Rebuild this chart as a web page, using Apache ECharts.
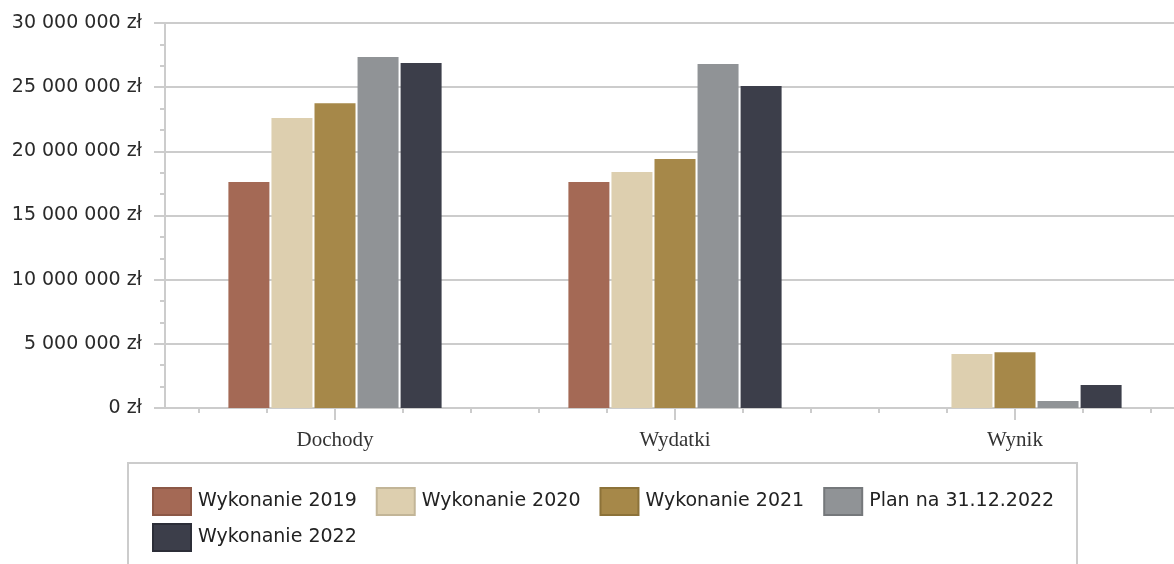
<!DOCTYPE html>
<html>
<head>
<meta charset="utf-8">
<script src="https://cdn.jsdelivr.net/npm/echarts@6/dist/echarts.min.js"></script>
<style>
  html, body { margin: 0; padding: 0; background: #fff; overflow: hidden; }
  #chart { width: 1186px; height: 564px; }
</style>
</head>
<body>
<div id="chart"></div>
<script>
const categories = ['Dochody', 'Wydatki', 'Wynik'];
const seriesNames = ['Wykonanie 2019', 'Wykonanie 2020', 'Wykonanie 2021', 'Plan na 31.12.2022', 'Wykonanie 2022'];
const wykonanie2019 = [17620000, 17620000, 0];
const wykonanie2020 = [22600000, 18390000, 4210000];
const wykonanie2021 = [23740000, 19400000, 4340000];
const plan2022 = [27350000, 26810000, 540000];
const wykonanie2022 = [26880000, 25090000, 1790000];
const yTicks = [0, 5000000, 10000000, 15000000, 20000000, 25000000, 30000000];

const seriesValues = [wykonanie2019, wykonanie2020, wykonanie2021, plan2022, wykonanie2022];
const colors = ['#a46955', '#ddcfaf', '#a68849', '#909396', '#3c3e4a'];
const borders = ['#8c5846', '#c2b597', '#8c7239', '#75787b', '#2c2e38'];
const minorCats = Array.from({ length: 15 }, () => '');

function fmt(v) {
  return String(v).replace(/\B(?=(\d{3})+(?!\d))/g, ' ') + ' zł';
}

const chart = echarts.init(document.getElementById('chart'), null, { renderer: 'canvas', width: 1186, height: 564 });
const gridColor = '#cccccc';

const legendStyle = {
  orient: 'horizontal',
  left: 152,
  itemWidth: 38,
  itemHeight: 27,
  itemGap: 19,
  padding: 0,
  icon: 'rect',
  textStyle: { fontFamily: 'DejaVu Sans', fontSize: 19, color: '#222', padding: [0, 0, 0, 2] }
};

chart.setOption({
  animation: false,
  color: colors,
  grid: { left: 165, top: 23, width: 1020, height: 385, containLabel: false },
  graphic: [{
    type: 'rect',
    shape: { x: 128, y: 463, width: 949, height: 130 },
    style: { fill: 'none', stroke: gridColor, lineWidth: 2 },
    z: -1
  }],
  legend: [
    Object.assign({}, legendStyle, {
      top: 487,
      data: seriesNames.slice(0, 4).map((n, i) => ({ name: n, itemStyle: { color: colors[i], borderColor: borders[i], borderWidth: 2 } }))
    }),
    Object.assign({}, legendStyle, {
      top: 523,
      data: seriesNames.slice(4).map((n, i) => ({ name: n, itemStyle: { color: colors[4 + i], borderColor: borders[4 + i], borderWidth: 2 } }))
    })
  ],
  xAxis: [{
    type: 'category',
    data: categories,
    position: 'bottom',
    axisLine: { show: true, lineStyle: { color: gridColor, width: 2 } },
    axisTick: { show: true, alignWithLabel: true, length: 12, lineStyle: { color: gridColor, width: 2 } },
    axisLabel: { fontFamily: 'Liberation Serif', fontSize: 21, color: '#333', margin: 22 }
  }, {
    type: 'category',
    data: minorCats,
    position: 'bottom',
    axisLine: { show: false },
    axisTick: { show: true, alignWithLabel: true, length: 5, lineStyle: { color: gridColor, width: 2 } },
    axisLabel: { show: false },
    splitLine: { show: false }
  }],
  yAxis: {
    type: 'value',
    min: yTicks[0],
    max: yTicks[yTicks.length - 1],
    interval: yTicks[1] - yTicks[0],
    axisLine: { show: true, lineStyle: { color: gridColor, width: 2 } },
    axisTick: { show: true, length: 11, lineStyle: { color: gridColor, width: 2 } },
    minorTick: { show: true, splitNumber: 3, length: 5, lineStyle: { color: gridColor, width: 2 } },
    splitLine: { show: true, lineStyle: { color: gridColor, width: 2 } },
    axisLabel: { fontFamily: 'DejaVu Sans', fontSize: 19, color: '#2a2a2a', margin: 23, formatter: fmt }
  },
  series: seriesNames.map((name, i) => ({
    name: name,
    type: 'bar',
    xAxisIndex: 0,
    data: seriesValues[i],
    barWidth: 41,
    barGap: '5%',
    itemStyle: { color: colors[i] }
  }))
});
</script>
</body>
</html>
